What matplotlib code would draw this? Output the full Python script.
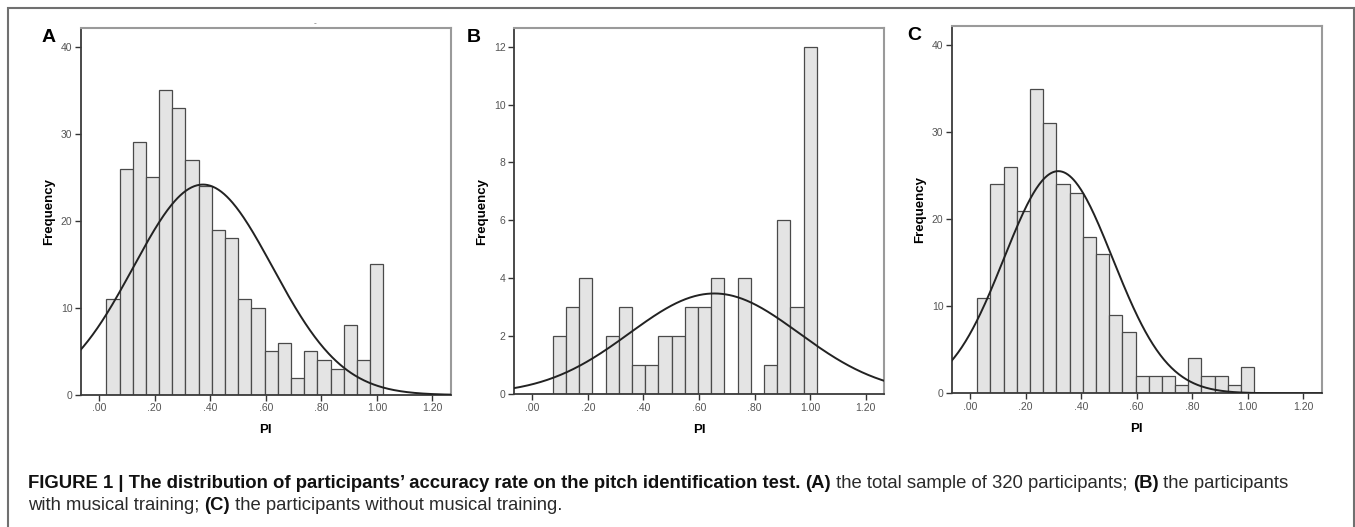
import matplotlib
matplotlib.use("Agg")
import matplotlib.pyplot as plt
from matplotlib.patches import Rectangle
import numpy as np

# PI bins (SPSS histogram, 21 bins)
pi_bins = np.round(np.linspace(0.05, 1.00, 21), 4)
bin_width = 0.0475

# frequencies
freq_total = [11, 26, 29, 25, 35, 33, 27, 24, 19, 18, 11, 10, 5, 6, 2, 5, 4, 3, 8, 4, 15]
freq_music = [0, 2, 3, 4, 0, 2, 3, 1, 1, 2, 2, 3, 3, 4, 0, 4, 0, 1, 6, 3, 12]
freq_nomusic = [11, 24, 26, 21, 35, 31, 24, 23, 18, 16, 9, 7, 2, 2, 2, 1, 4, 2, 2, 1, 3]

# fitted normal curves (mean, sd) as drawn by SPSS
fit_total = (0.374, 0.251)
fit_music = (0.655, 0.305)
fit_nomusic = (0.318, 0.196)

x_ticks = [0.0, 0.2, 0.4, 0.6, 0.8, 1.0, 1.2]
x_ticklabels = [".00", ".20", ".40", ".60", ".80", "1.00", "1.20"]

W, H = 1355, 527
plt.rcParams['font.family'] = ['Liberation Sans', 'DejaVu Sans']

fig = plt.figure(figsize=(W / 100, H / 100), dpi=100)

# outer frame of the figure
fig.patches.append(Rectangle((8 / W, -0.05), (1353.5 - 8) / W, 1 - 7.5 / H + 0.05,
                             transform=fig.transFigure, fill=False,
                             edgecolor='#707070', lw=1.5, clip_on=False))


def px_box(x0, y0, x1, y1):
    return [x0 / W, 1 - y1 / H, (x1 - x0) / W, (y1 - y0) / H]


def draw_panel(box, freqs, fit, yticks, ymax, letter, letter_x):
    ax = fig.add_axes(px_box(*box))
    ax.bar(pi_bins, freqs, width=bin_width, color='#e4e4e4',
           edgecolor='#4a4a4a', linewidth=0.9, zorder=2)
    mu, sd = fit
    xs = np.linspace(-0.07, 1.27, 400)
    ys = sum(freqs) * bin_width * np.exp(-0.5 * ((xs - mu) / sd) ** 2) / (sd * np.sqrt(2 * np.pi))
    ax.plot(xs, ys, color='#222222', lw=1.4, zorder=3)
    ax.set_xlim(-0.066, 1.267)
    ax.set_ylim(0, ymax)
    ax.set_xticks(x_ticks)
    ax.set_xticklabels(x_ticklabels)
    ax.set_yticks(yticks)
    ax.tick_params(axis='both', direction='out', length=4, width=1,
                   color='#333333', labelsize=7.5, labelcolor='#555555', pad=2)
    ax.tick_params(top=False, right=False)
    for s in ['top', 'right']:
        ax.spines[s].set_color('#9a9a9a')
        ax.spines[s].set_linewidth(1.5)
    for s in ['left', 'bottom']:
        ax.spines[s].set_color('#3a3a3a')
        ax.spines[s].set_linewidth(1.3)
    ax.set_ylabel("Frequency", fontsize=9.5, fontweight='bold', labelpad=4)
    ax.set_xlabel("PI", fontsize=9.5, fontweight='bold', labelpad=8)
    ax.text(letter_x, 0.998, letter, transform=ax.transAxes, fontsize=14,
            fontweight='bold', ha='center', va='top')
    return ax


draw_panel((80.7, 28.3, 451, 395), freq_total, fit_total, [0, 10, 20, 30, 40], 42.1, "A", -0.086)
draw_panel((514, 28.3, 884.3, 394.3), freq_music, fit_music, [0, 2, 4, 6, 8, 10, 12], 12.63, "B", -0.108)
draw_panel((951.7, 26, 1321.7, 393.3), freq_nomusic, fit_nomusic, [0, 10, 20, 30, 40], 42.2, "C", -0.101)

# leftover mark above panel A
fig.text(315 / W, 1 - 24 / H, "-", fontsize=6, color='#666666', ha='center', va='center')

# caption, written in runs of bold and regular text
line1 = [("FIGURE 1 | The distribution of participants\u2019 accuracy rate on the pitch identification test. ", 'bold'),
         ("(A)", 'bold'), (" the total sample of 320 participants; ", 'normal'),
         ("(B)", 'bold'), (" the participants", 'normal')]
line2 = [("with musical training; ", 'normal'), ("(C)", 'bold'),
         (" the participants without musical training.", 'normal')]

renderer = fig.canvas.get_renderer()


def write_runs(runs, x_px, y_px, size):
    x = x_px
    for txt, wt in runs:
        t = fig.text(x / W, 1 - y_px / H, txt, fontsize=size, fontweight=wt,
                     color='#111111' if wt == 'bold' else '#2a2a2a', va='center', ha='left')
        bb = t.get_window_extent(renderer=renderer)
        x += bb.width


write_runs(line1, 28, 483, 13.3)
write_runs(line2, 28, 506, 13.3)

fig.savefig("out.png", dpi=100)
